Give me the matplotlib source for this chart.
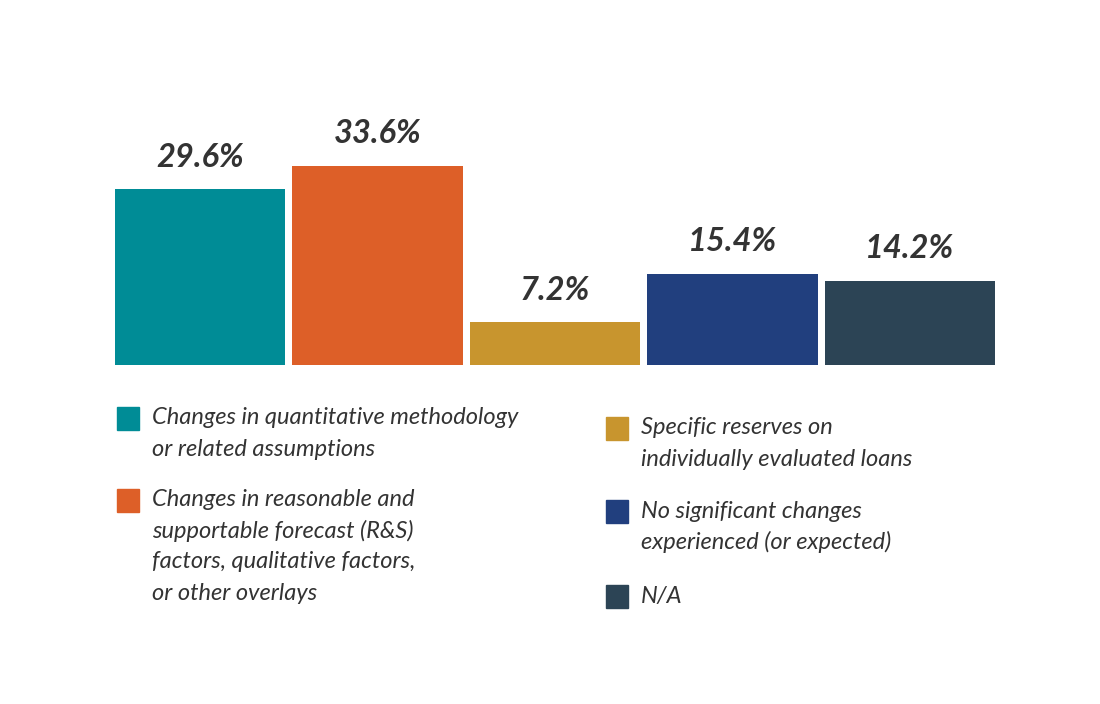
import matplotlib.pyplot as plt

categories = [
    "Changes in quantitative methodology\nor related assumptions",
    "Changes in reasonable and\nsupportable forecast (R&S)\nfactors, qualitative factors,\nor other overlays",
    "Specific reserves on\nindividually evaluated loans",
    "No significant changes\nexperienced (or expected)",
    "N/A",
]
values = [29.6, 33.6, 7.2, 15.4, 14.2]
colors = ["#008C96", "#DD5F28", "#C8952E", "#213F7E", "#2C4455"]

plt.rcParams['font.family'] = ['Lato', 'DejaVu Sans']

W, H = 1100, 704
fig = plt.figure(figsize=(W / 100, H / 100), dpi=100)
fig.patch.set_facecolor('white')

# axes spans the bar area in pixel terms
ax = fig.add_axes([115 / W, (H - 365) / H, 880 / W, 285 / H])
xs = range(len(values))
bars = ax.bar(xs, values, width=0.958, color=colors)
ax.set_xlim(-0.479, len(values) - 1 + 0.479)
ax.set_ylim(0, 48)
ax.axis('off')

for b, v in zip(bars, values):
    ax.annotate(f"{v:.1f}%", (b.get_x() + b.get_width() / 2, b.get_height()),
                xytext=(0, 16), textcoords='offset points',
                ha='center', va='baseline', fontsize=23.5,
                fontweight='bold', fontstyle='italic', color='#333333')

# legend, two columns
def px(x, y):
    return x / W, 1 - y / H

left_items = [0, 1]
right_items = [2, 3, 4]
line_h = 31

def draw_column(items, box_x, text_x, starts):
    for i, y0 in zip(items, starts):
        fig.patches.append(plt.Rectangle(px(box_x, y0 + 12), 22 / W, 23 / H,
                                         transform=fig.transFigure,
                                         color=colors[i]))
        for j, line in enumerate(categories[i].split('\n')):
            fig.text(*px(text_x, y0 + j * line_h), line, fontsize=17,
                     fontstyle='italic', color='#333333',
                     ha='left', va='center')

draw_column(left_items, 117, 152, [418, 500])
draw_column(right_items, 606, 641, [428, 511, 596])

fig.savefig('out.png', dpi=100, facecolor='white')
